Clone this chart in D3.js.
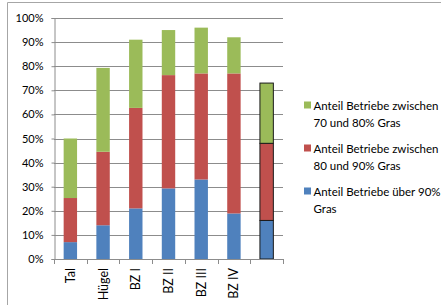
<!DOCTYPE html>
<html>
<head>
<meta charset="utf-8">
<script src="https://cdn.jsdelivr.net/npm/d3@7"></script>
<style>
  body { margin: 0; background: #fff; }
  svg { display: block; font-family: Lato, "Open Sans", sans-serif; }
</style>
</head>
<body>
<div id="chart"></div>
<script>
// categories and series (percent of farms)
const categories = ["Tal", "Hügel", "BZ I", "BZ II", "BZ III", "BZ IV", ""];
const over90 = [7, 14, 21, 29.3, 33, 18.9, 16];
const from80to90 = [18.3, 30.5, 41.7, 47, 44, 58.1, 32];
const from70to80 = [24.7, 34.8, 28.3, 18.7, 19, 15, 25];
const yTicks = [0, 10, 20, 30, 40, 50, 60, 70, 80, 90, 100];

const width = 441;
const height = 305;
const margin = { left: 54, right: 158, top: 18, bottom: 46 };

const colors = { over90: "#4F81BD", mid: "#C0504D", low: "#9BBB59" };

const rows = categories.map((c, i) => ({
  cat: i, label: c, over90: over90[i], mid: from80to90[i], low: from70to80[i]
}));

const svg = d3.select("#chart").append("svg")
  .attr("width", width)
  .attr("height", height);

// outer frame (top and left edge visible)
svg.append("line").attr("x1", 7.5).attr("x2", width).attr("y1", 2.5).attr("y2", 2.5)
  .attr("stroke", "#a6a6a6");
svg.append("line").attr("x1", 7.5).attr("x2", 7.5).attr("y1", 2.5).attr("y2", height)
  .attr("stroke", "#a6a6a6");

const x = d3.scaleBand()
  .domain(d3.range(categories.length))
  .range([margin.left, width - margin.right])
  .paddingInner(0.59)
  .paddingOuter(0.295);

const y = d3.scaleLinear()
  .domain([0, 100])
  .range([height - margin.bottom, margin.top]);

// gridlines
svg.append("g")
  .selectAll("line")
  .data(yTicks)
  .join("line")
  .attr("x1", margin.left)
  .attr("x2", width - margin.right)
  .attr("y1", d => Math.round(y(d)) + 0.5)
  .attr("y2", d => Math.round(y(d)) + 0.5)
  .attr("stroke", "#8c8c8c");

// y axis
const yAxis = d3.axisLeft(y)
  .tickValues(yTicks)
  .tickFormat(d => d + "%")
  .tickSize(3)
  .tickPadding(8);

const gy = svg.append("g")
  .attr("transform", `translate(${margin.left + 0.5},0)`)
  .call(yAxis);
gy.select(".domain").attr("stroke", "#8c8c8c");
gy.selectAll(".tick line").attr("stroke", "#8c8c8c");
gy.selectAll(".tick text").attr("font-size", 11).attr("fill", "#000")
  .attr("font-family", "Lato, sans-serif");

// stacked bars
const stack = d3.stack().keys(["over90", "mid", "low"]);
const stacked = stack(rows);

svg.append("g")
  .selectAll("g")
  .data(stacked)
  .join("g")
  .attr("fill", d => d.key === "over90" ? colors.over90 : d.key === "mid" ? colors.mid : colors.low)
  .selectAll("rect")
  .data(d => d)
  .join("rect")
  .attr("x", d => x(d.data.cat))
  .attr("y", d => y(d[1]))
  .attr("width", x.bandwidth())
  .attr("height", d => y(d[0]) - y(d[1]))
  .attr("stroke", d => d.data.label === "" ? "#1a1a1a" : "none")
  .attr("stroke-width", 1);

// x axis: ticks between categories
const bounds = d3.range(categories.length + 1).map(i => margin.left + i * (width - margin.left - margin.right) / categories.length);
svg.append("line")
  .attr("x1", margin.left).attr("x2", width - margin.right)
  .attr("y1", Math.round(y(0)) + 0.5).attr("y2", Math.round(y(0)) + 0.5)
  .attr("stroke", "#8c8c8c");
svg.append("g")
  .selectAll("line")
  .data(bounds)
  .join("line")
  .attr("x1", d => Math.round(d) + 0.5)
  .attr("x2", d => Math.round(d) + 0.5)
  .attr("y1", y(0))
  .attr("y2", y(0) + 5)
  .attr("stroke", "#8c8c8c");

svg.append("g")
  .selectAll("text")
  .data(rows)
  .join("text")
  .attr("transform", d => `translate(${x(d.cat) + x.bandwidth() / 2 + 4.5},${y(0) + 9}) rotate(-90)`)
  .attr("text-anchor", "end")
  .attr("font-size", 12.5)
  .text(d => d.label);

// legend
const legendItems = [
  { color: colors.low, lines: ["Anteil Betriebe zwischen", "70 und 80% Gras"] },
  { color: colors.mid, lines: ["Anteil Betriebe zwischen", "80 und 90% Gras"] },
  { color: colors.over90, lines: ["Anteil Betriebe über 90%", "Gras"] }
];

const legend = svg.append("g").attr("transform", "translate(304,100)");
legendItems.forEach((item, i) => {
  const g = legend.append("g").attr("transform", `translate(0,${i * 43})`);
  g.append("rect").attr("width", 7).attr("height", 7).attr("y", 1.5).attr("fill", item.color);
  g.selectAll("text")
    .data(item.lines)
    .join("text")
    .attr("x", 9.5)
    .attr("y", (d, j) => 9.5 + j * 17.5)
    .attr("font-size", 11.5)
    .text(d => d);
});
</script>
</body>
</html>
